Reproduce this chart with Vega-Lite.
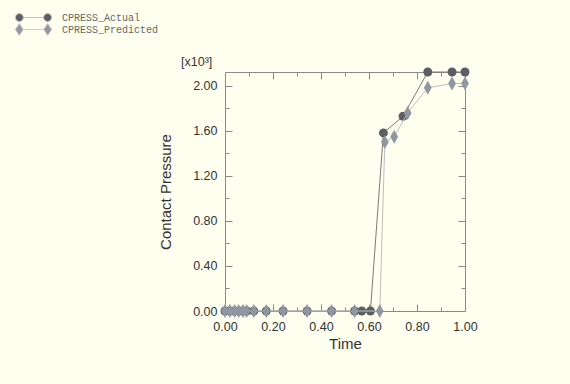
{
  "$schema": "https://vega.github.io/schema/vega-lite/v6.json",
  "autosize": "none",
  "width": 240,
  "height": 239,
  "padding": {"left": 225, "top": 72, "right": 105, "bottom": 73},
  "background": "#ffffef",
  "view": {"stroke": "#8a8a8a", "strokeWidth": 1},
  "datasets": {
    "actual": [
      {"series": "CPRESS_Actual", "time": 0.0, "p": 0},
      {"series": "CPRESS_Actual", "time": 0.02, "p": 0},
      {"series": "CPRESS_Actual", "time": 0.04, "p": 0},
      {"series": "CPRESS_Actual", "time": 0.057, "p": 0},
      {"series": "CPRESS_Actual", "time": 0.075, "p": 0},
      {"series": "CPRESS_Actual", "time": 0.09, "p": 0},
      {"series": "CPRESS_Actual", "time": 0.12, "p": 0},
      {"series": "CPRESS_Actual", "time": 0.172, "p": 0},
      {"series": "CPRESS_Actual", "time": 0.242, "p": 0},
      {"series": "CPRESS_Actual", "time": 0.342, "p": 0},
      {"series": "CPRESS_Actual", "time": 0.444, "p": 0},
      {"series": "CPRESS_Actual", "time": 0.54, "p": 0},
      {"series": "CPRESS_Actual", "time": 0.57, "p": 0},
      {"series": "CPRESS_Actual", "time": 0.606, "p": 0},
      {"series": "CPRESS_Actual", "time": 0.66, "p": 1.58},
      {"series": "CPRESS_Actual", "time": 0.742, "p": 1.727},
      {"series": "CPRESS_Actual", "time": 0.845, "p": 2.12},
      {"series": "CPRESS_Actual", "time": 0.946, "p": 2.12},
      {"series": "CPRESS_Actual", "time": 1.0, "p": 2.12}
    ],
    "predicted": [
      {"series": "CPRESS_Predicted", "time": 0.0, "p": 0},
      {"series": "CPRESS_Predicted", "time": 0.02, "p": 0},
      {"series": "CPRESS_Predicted", "time": 0.04, "p": 0},
      {"series": "CPRESS_Predicted", "time": 0.057, "p": 0},
      {"series": "CPRESS_Predicted", "time": 0.075, "p": 0},
      {"series": "CPRESS_Predicted", "time": 0.09, "p": 0},
      {"series": "CPRESS_Predicted", "time": 0.12, "p": 0},
      {"series": "CPRESS_Predicted", "time": 0.172, "p": 0},
      {"series": "CPRESS_Predicted", "time": 0.242, "p": 0},
      {"series": "CPRESS_Predicted", "time": 0.342, "p": 0},
      {"series": "CPRESS_Predicted", "time": 0.444, "p": 0},
      {"series": "CPRESS_Predicted", "time": 0.54, "p": 0},
      {"series": "CPRESS_Predicted", "time": 0.645, "p": 0},
      {"series": "CPRESS_Predicted", "time": 0.666, "p": 1.5},
      {"series": "CPRESS_Predicted", "time": 0.705, "p": 1.545},
      {"series": "CPRESS_Predicted", "time": 0.761, "p": 1.757},
      {"series": "CPRESS_Predicted", "time": 0.845, "p": 1.98},
      {"series": "CPRESS_Predicted", "time": 0.946, "p": 2.018},
      {"series": "CPRESS_Predicted", "time": 1.0, "p": 2.018}
    ],
    "unit": [{"label": "[x10³]", "time": 0, "p": 2.12}]
  },
  "resolve": {"axis": {"x": "independent", "y": "independent"}},
  "layer": [
    {
      "data": {"name": "actual"},
      "mark": {"type": "line", "color": "#7a7a7a", "strokeWidth": 1},
      "encoding": {
        "x": {"field": "time", "type": "quantitative", "scale": {"domain": [0, 1], "nice": false, "zero": false},
          "axis": {"orient": "bottom", "values": [0, 0.2, 0.4, 0.6, 0.8, 1.0], "format": ".2f", "ticks": false, "domain": false, "grid": false, "labelPadding": 9, "labelFont": "Liberation Sans", "labelFontSize": 12.5, "labelColor": "#333333", "labelFlush": false, "title": "Time", "titleFont": "Liberation Sans", "titleFontSize": 15, "titleFontWeight": "normal", "titleColor": "#333333", "titlePadding": 4}},
        "y": {"field": "p", "type": "quantitative", "scale": {"domain": [0, 2.12], "nice": false, "zero": false},
          "axis": {"orient": "left", "values": [0, 0.4, 0.8, 1.2, 1.6, 2.0], "format": ".2f", "ticks": false, "domain": false, "grid": false, "labelPadding": 8, "labelFont": "Liberation Sans", "labelFontSize": 12.5, "labelColor": "#333333", "labelFlush": false, "title": "Contact Pressure", "titleFont": "Liberation Sans", "titleFontSize": 15, "titleFontWeight": "normal", "titleColor": "#333333", "titlePadding": 19}}
      }
    },
    {
      "data": {"name": "actual"},
      "mark": {"type": "point", "shape": "circle", "filled": true, "opacity": 1, "color": "#5b5e63", "size": 81},
      "encoding": {
        "x": {"field": "time", "type": "quantitative", "axis": {"orient": "bottom", "values": [0.2, 0.4, 0.6, 0.8], "labels": false, "domain": false, "grid": false, "ticks": true, "tickSize": -7, "tickColor": "#8a8a8a", "title": null}},
        "y": {"field": "p", "type": "quantitative", "axis": {"orient": "left", "values": [0.4, 0.8, 1.2, 1.6, 2.0], "labels": false, "domain": false, "grid": false, "ticks": true, "tickSize": -7, "tickColor": "#8a8a8a", "title": null}}
      }
    },
    {
      "data": {"name": "predicted"},
      "mark": {"type": "line", "color": "#bdbdbd", "strokeWidth": 1},
      "encoding": {
        "x": {"field": "time", "type": "quantitative", "axis": {"orient": "bottom", "values": [0.1, 0.3, 0.5, 0.7, 0.9], "labels": false, "domain": false, "grid": false, "ticks": true, "tickSize": -4, "tickColor": "#8a8a8a", "title": null}},
        "y": {"field": "p", "type": "quantitative", "axis": {"orient": "left", "values": [0.2, 0.6, 1.0, 1.4, 1.8], "labels": false, "domain": false, "grid": false, "ticks": true, "tickSize": -4, "tickColor": "#8a8a8a", "title": null}}
      }
    },
    {
      "data": {"name": "predicted"},
      "mark": {"type": "point", "shape": "M0,-1.4L0.78,0L0,1.4L-0.78,0Z", "filled": true, "opacity": 1, "color": "#9197a1", "size": 100},
      "encoding": {
        "x": {"field": "time", "type": "quantitative", "axis": {"orient": "top", "values": [0.2, 0.4, 0.6, 0.8], "labels": false, "domain": false, "grid": false, "ticks": true, "tickSize": -7, "tickColor": "#8a8a8a", "title": null}},
        "y": {"field": "p", "type": "quantitative", "axis": {"orient": "right", "values": [0.4, 0.8, 1.2, 1.6, 2.0], "labels": false, "domain": false, "grid": false, "ticks": true, "tickSize": -7, "tickColor": "#8a8a8a", "title": null}}
      }
    },
    {
      "data": {"name": "predicted"},
      "mark": {"type": "point", "opacity": 1, "size": 0, "strokeWidth": 1},
      "encoding": {
        "x": {"field": "time", "type": "quantitative", "axis": {"orient": "top", "values": [0.1, 0.3, 0.5, 0.7, 0.9], "labels": false, "domain": false, "grid": false, "ticks": true, "tickSize": -4, "tickColor": "#8a8a8a", "title": null}},
        "y": {"field": "p", "type": "quantitative", "axis": {"orient": "right", "values": [0.2, 0.6, 1.0, 1.4, 1.8], "labels": false, "domain": false, "grid": false, "ticks": true, "tickSize": -4, "tickColor": "#8a8a8a", "title": null}},
        "fill": {"field": "series", "type": "nominal", "scale": {"domain": ["CPRESS_Actual", "CPRESS_Predicted"], "range": ["#5b5e63", "#9197a1"]},
          "legend": {"orient": "none", "legendX": -197, "legendY": -60, "title": null, "padding": 0, "rowPadding": -5, "labelOffset": 23, "labelFont": "Liberation Mono", "labelFontSize": 10, "labelColor": "#666666", "symbolOpacity": 1, "symbolStrokeWidth": 1, "symbolSize": 100}},
        "stroke": {"field": "series", "type": "nominal", "scale": {"domain": ["CPRESS_Actual", "CPRESS_Predicted"], "range": ["#c4c4c4", "#cccccc"]}},
        "shape": {"field": "series", "type": "nominal", "scale": {"domain": ["CPRESS_Actual", "CPRESS_Predicted"], "range": ["M-3.62,0A0.8,0.8 0 1,0 -2.02,0A0.8,0.8 0 1,0 -3.62,0Z M2.02,0A0.8,0.8 0 1,0 3.62,0A0.8,0.8 0 1,0 2.02,0Z M-2.02,0L2.02,0", "M-2.84,-1.2L-2.04,0L-2.84,1.2L-3.64,0Z M2.84,-1.2L3.64,0L2.84,1.2L2.04,0Z M-2.04,0L2.04,0"]}}
      }
    },
    {
      "data": {"name": "unit"},
      "mark": {"type": "text", "align": "left", "baseline": "alphabetic", "dx": -44, "dy": -6, "font": "Liberation Sans", "fontSize": 12.5, "color": "#333333"},
      "encoding": {
        "x": {"field": "time", "type": "quantitative", "axis": null},
        "y": {"field": "p", "type": "quantitative", "axis": null},
        "text": {"field": "label"}
      }
    }
  ]
}
